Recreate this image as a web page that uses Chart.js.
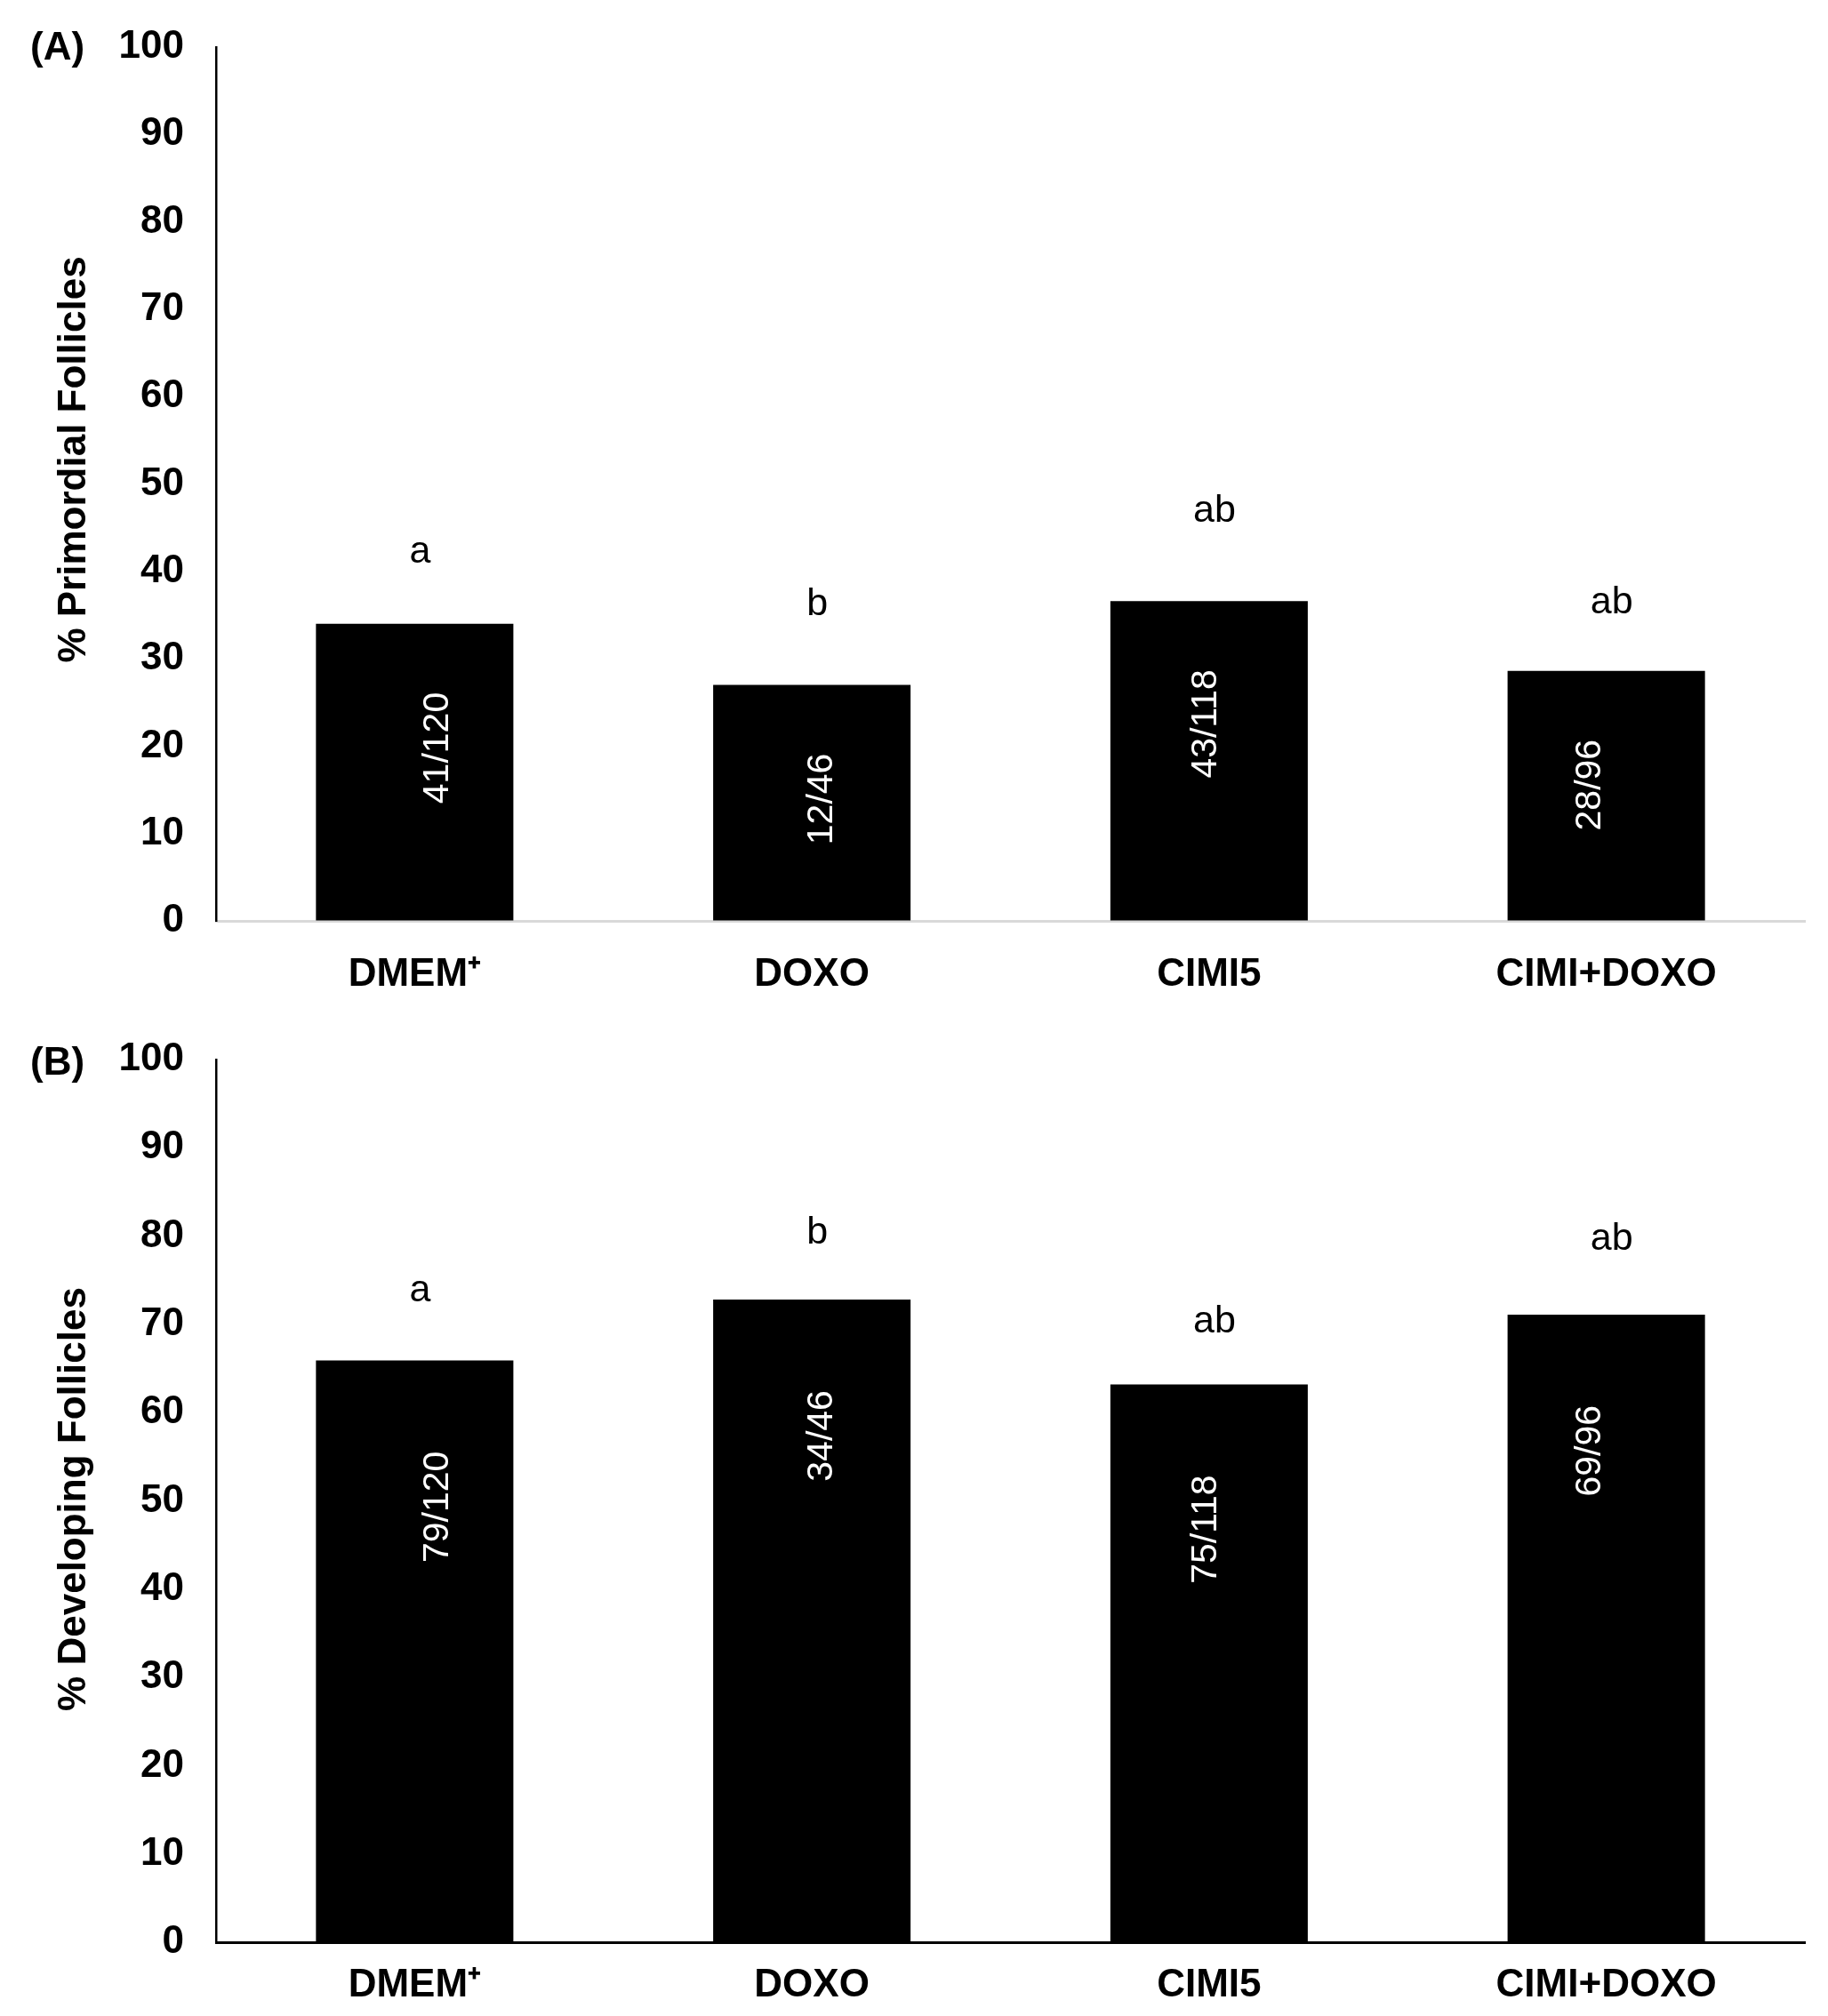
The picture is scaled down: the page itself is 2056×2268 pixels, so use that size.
<!DOCTYPE html>
<html>
<head>
<meta charset="utf-8">
<script src="https://cdn.jsdelivr.net/npm/chart.js@4.4.1/dist/chart.umd.min.js"></script>
<style>
html, body { margin: 0; padding: 0; background: #fff; }
.panel { position: absolute; left: 0; width: 2056px; }
</style>
</head>
<body>
<div class="panel" style="top:0;height:1150px"><canvas id="chartA"></canvas></div>
<div class="panel" style="top:1150px;height:1118px"><canvas id="chartB"></canvas></div>
<script>
// treatment groups
const categories = ['DMEM\u207A', 'DOXO', 'CIMI5', 'CIMI+DOXO'];

// (A) primordial follicles
const primordialPct = [34.0, 27.0, 36.6, 28.6];
const primordialCounts = ['41/120', '12/46', '43/118', '28/96'];
const primordialLetters = ['a', 'b', 'ab', 'ab'];
const primordialLetterLevel = [42.2, 36.2, 46.9, 36.4];

// (B) developing follicles
const developingPct = [65.9, 72.8, 63.2, 71.1];
const developingCounts = ['79/120', '34/46', '75/118', '69/96'];
const developingLetters = ['a', 'b', 'ab', 'ab'];
const developingLetterLevel = [73.8, 80.3, 70.3, 79.6];

const FONT = '"Liberation Sans", Arial, sans-serif';

// letters above bars, n/N inside bars, panel tag and y title
function notesPlugin(tag, yTitle, titleMid, counts, letters, letterLevel, countGap, tagDy) {
    return {
        id: 'notes',
        afterDatasetsDraw(chart) {
            const ctx = chart.ctx;
            const yScale = chart.scales.y;
            const bars = chart.getDatasetMeta(0).data;
            const mid = (bars[0].x + bars[bars.length - 1].x) / 2;
            ctx.save();
            bars.forEach((bar, i) => {
                ctx.fillStyle = '#000';
                ctx.font = '43px ' + FONT;
                ctx.textAlign = 'center';
                ctx.textBaseline = 'middle';
                ctx.fillText(letters[i], bar.x + 6, yScale.getPixelForValue(letterLevel[i]));

                let lx = mid + (bar.x - mid) * 0.967 + 4;
                ctx.save();
                ctx.translate(lx, bar.y + countGap);
                ctx.rotate(-Math.PI / 2);
                ctx.fillStyle = '#fff';
                ctx.font = '41px ' + FONT;
                ctx.textAlign = 'right';
                ctx.textBaseline = 'middle';
                ctx.fillText(counts[i], 0, 0);
                ctx.restore();
            });
            ctx.fillStyle = '#000';
            ctx.font = 'bold 44px ' + FONT;
            ctx.textAlign = 'left';
            ctx.textBaseline = 'middle';
            ctx.fillText(tag, 34, chart.chartArea.top + tagDy);

            // y axis title
            ctx.save();
            ctx.translate(84, yScale.getPixelForValue(titleMid));
            ctx.rotate(-Math.PI / 2);
            ctx.textAlign = 'center';
            ctx.fillText(yTitle, 0, 0);
            ctx.restore();
            ctx.restore();
        }
    };
}

function makeChart(id, values, opts) {
    var config = {
        type: 'bar',
        data: {
            labels: categories,
            datasets: [{
                data: values,
                backgroundColor: '#000',
                borderWidth: 0,
                barPercentage: 0.497,
                categoryPercentage: 1.0
            }]
        },
        options: {
            responsive: true,
            maintainAspectRatio: false,
            animation: false,
            layout: { padding: { top: opts.top, right: 26, left: 0, bottom: 0 } },
            plugins: { legend: { display: false }, tooltip: { enabled: false } },
            scales: {
                x: {
                    grid: { display: false },
                    border: { display: true, color: opts.axisColor, width: 3 },
                    ticks: {
                        color: '#000',
                        font: { family: FONT, size: 44, weight: 'bold' },
                        padding: opts.xPad,
                        maxRotation: 0
                    },
                    afterFit: (s) => { s.height = opts.xHeight; }
                },
                y: {
                    min: 0,
                    max: 100,
                    // invisible tick marks keep the labels away from the axis
                    grid: {
                        display: true,
                        drawOnChartArea: false,
                        drawTicks: true,
                        tickLength: 36,
                        color: 'rgba(0,0,0,0)',
                        tickColor: 'rgba(0,0,0,0)'
                    },
                    border: { display: true, color: '#000', width: 2.5 },
                    ticks: {
                        stepSize: 10,
                        color: '#000',
                        padding: 0,
                        font: { family: FONT, size: 44, weight: 'bold' }
                    },
                    afterFit: (s) => { s.width = 243; }
                }
            }
        },
        plugins: [opts.plugin]
    };
    return new Chart(document.getElementById(id).getContext('2d'), config);
}

makeChart('chartA', primordialPct, {
    top: 53, xHeight: 114, xPad: 26, axisColor: '#d9d9d9',
    plugin: notesPlugin('(A)', '% Primordial Follicles', 52.8, primordialCounts, primordialLetters, primordialLetterLevel, 77, 2)
});
makeChart('chartB', developingPct, {
    top: 42, xHeight: 83, xPad: 14, axisColor: '#000',
    plugin: notesPlugin('(B)', '% Developing Follicles', 50.2, developingCounts, developingLetters, developingLetterLevel, 102, 5)
});
</script>
</body>
</html>
